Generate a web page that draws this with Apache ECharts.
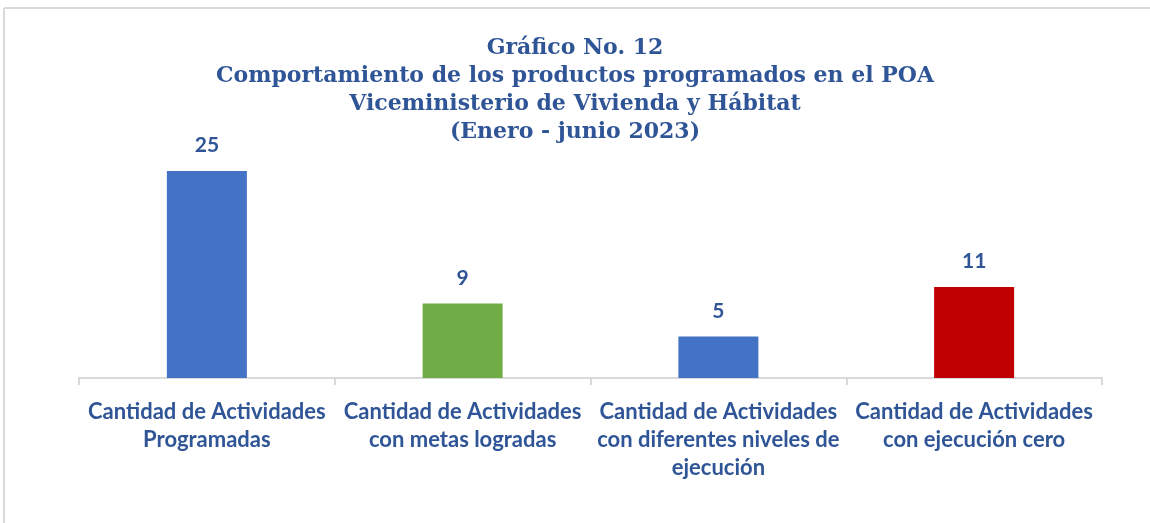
<!DOCTYPE html>
<html>
<head>
<meta charset="utf-8">
<script src="https://cdn.jsdelivr.net/npm/echarts@6/dist/echarts.min.js"></script>
<style>
  html, body { margin: 0; padding: 0; background: #fff; }
  #mychart { width: 1150px; height: 523px; }
</style>
</head>
<body>
<div id="mychart"></div>
<script>
// categorias del eje x
var categories = [
  "Cantidad de Actividades\nProgramadas",
  "Cantidad de Actividades\ncon metas logradas",
  "Cantidad de Actividades\ncon diferentes niveles de\nejecución",
  "Cantidad de Actividades\ncon ejecución cero"
];
// valores
var values = [25, 9, 5, 11];
var barColors = ["#4472C4", "#70AD47", "#4472C4", "#C00000"];

var titleText = "Gráfico No. 12\nComportamiento de los productos programados en el POA\nViceministerio de Vivienda y Hábitat\n(Enero - junio 2023)";

var myChart = echarts.init(document.getElementById("mychart"));
var option = {
  backgroundColor: "#fff",
  animation: false,
  title: {
    text: titleText,
    left: "center",
    top: 29,
    textStyle: {
      fontFamily: "DejaVu Serif",
      fontWeight: "bold",
      fontSize: 22,
      lineHeight: 28,
      color: "#2F5597"
    }
  },
  graphic: [
    { type: "line", shape: { x1: 4, y1: 8, x2: 1150, y2: 8 }, style: { stroke: "#D9D9D9", lineWidth: 2 } },
    { type: "line", shape: { x1: 4, y1: 8, x2: 4, y2: 523 }, style: { stroke: "#D9D9D9", lineWidth: 2 } }
  ],
  grid: {
    left: 79,
    right: 48,
    top: 171,
    bottom: 145
  },
  xAxis: {
    type: "category",
    data: categories,
    axisLine: { lineStyle: { color: "#D9D9D9", width: 2 } },
    axisTick: { show: true, length: 7, lineStyle: { color: "#D9D9D9", width: 2 } },
    axisLabel: {
      interval: 0,
      margin: 20,
      fontFamily: "Lato",
      fontWeight: "bold",
      fontSize: 22,
      lineHeight: 28,
      color: "#2F5597"
    }
  },
  yAxis: {
    type: "value",
    min: 0,
    max: 25,
    show: false,
    splitLine: { show: false }
  },
  series: [
    {
      type: "bar",
      data: values.map(function (v, i) {
        return { value: v, itemStyle: { color: barColors[i] } };
      }),
      barWidth: 80,
      label: {
        show: true,
        position: "top",
        distance: 15,
        fontFamily: "Lato",
        fontWeight: "bold",
        fontSize: 21,
        color: "#2F5597"
      }
    }
  ]
};
myChart.setOption(option);
</script>
</body>
</html>
